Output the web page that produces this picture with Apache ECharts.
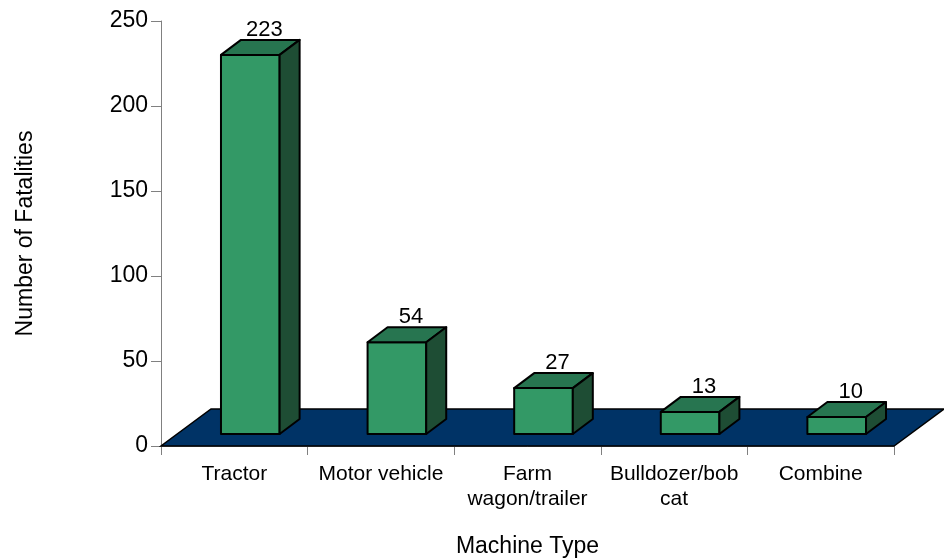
<!DOCTYPE html>
<html>
<head>
<meta charset="utf-8">
<script src="https://cdn.jsdelivr.net/npm/echarts@6/dist/echarts.min.js"></script>
<style>
  html, body { margin: 0; padding: 0; background: #ffffff; }
  #chart { width: 944px; height: 558px; }
</style>
</head>
<body>
<div id="chart"></div>
<script>
// chart data
var categories = ['Tractor', 'Motor vehicle', 'Farm\nwagon/trailer', 'Bulldozer/bob\ncat', 'Combine'];
var fatalities = [223, 54, 27, 13, 10];
var yMax = 250;
var yStep = 50;

// 3d look
var FLOOR_DX = 50, FLOOR_DY = 37;   // floor depth
var FRONT_DX = 16, FRONT_DY = 12;   // bar front face sits inside the floor
var BAR_DX = 20, BAR_DY = 15;       // bar depth
var FONT = '"Liberation Sans", Arial, sans-serif';

var chart = echarts.init(document.getElementById('chart'), null, { renderer: 'canvas' });

function renderFloor(params, api) {
    var band = api.size([1, 0])[0];
    var first = api.coord([0, 0]);
    var last = api.coord([categories.length - 1, 0]);
    var xl = first[0] - band / 2, xr = last[0] + band / 2, y = first[1];
    return {
        type: 'polygon',
        shape: { points: [[xl, y], [xr, y], [xr + FLOOR_DX, y - FLOOR_DY], [xl + FLOOR_DX, y - FLOOR_DY]] },
        style: { fill: '#003366', stroke: '#000000', lineWidth: 1.5 }
    };
}

function renderBar(params, api) {
    var i = api.value(0), v = api.value(1);
    var base = api.coord([i, 0]);
    var top = api.coord([i, v]);
    var band = api.size([1, 0])[0];
    var w = band * 0.4;
    var cx = base[0] + FRONT_DX;
    var x0 = cx - w / 2, x1 = cx + w / 2;
    var yb = base[1] - FRONT_DY, yt = top[1] - FRONT_DY;
    var line = { stroke: '#000000', lineWidth: 2, lineJoin: 'round' };
    return {
        type: 'group',
        children: [
            { type: 'polygon', shape: { points: [[x0, yb], [x1, yb], [x1, yt], [x0, yt]] },
              style: Object.assign({ fill: '#339966' }, line) },
            { type: 'polygon', shape: { points: [[x0, yt], [x1, yt], [x1 + BAR_DX, yt - BAR_DY], [x0 + BAR_DX, yt - BAR_DY]] },
              style: Object.assign({ fill: '#277550' }, line) },
            { type: 'polygon', shape: { points: [[x1, yb], [x1, yt], [x1 + BAR_DX, yt - BAR_DY], [x1 + BAR_DX, yb - BAR_DY]] },
              style: Object.assign({ fill: '#1e4d34' }, line) },
            { type: 'text',
              style: { text: String(v), x: cx + 14, y: yt - BAR_DY + 1, align: 'center', verticalAlign: 'bottom',
                       fontSize: 22, fontFamily: FONT, fill: '#000000' } }
        ]
    };
}

var option = {
    backgroundColor: '#ffffff',
    animation: false,
    textStyle: { fontFamily: FONT },
    grid: { left: 161, right: 50, top: 21, bottom: 112, containLabel: false, outerBoundsMode: 'none' },
    xAxis: {
        type: 'category',
        data: categories,
        name: 'Machine Type',
        nameLocation: 'middle',
        nameGap: 89,
        nameTextStyle: { fontSize: 23, color: '#000000', fontFamily: FONT },
        axisLine: { show: true, lineStyle: { color: '#808080', width: 1 } },
        axisTick: { show: true, length: 9, lineStyle: { color: '#808080', width: 1 } },
        axisLabel: { interval: 0, fontSize: 21, lineHeight: 25, margin: 16, color: '#000000', fontFamily: FONT },
        splitLine: { show: false }
    },
    yAxis: {
        type: 'value',
        min: 0,
        max: yMax,
        interval: yStep,
        name: 'Number of Fatalities',
        nameLocation: 'middle',
        nameGap: 124,
        nameTextStyle: { fontSize: 23, color: '#000000', fontFamily: FONT },
        axisLine: { show: true, lineStyle: { color: '#808080', width: 1 } },
        axisTick: { show: true, length: 10, lineStyle: { color: '#808080', width: 1 } },
        axisLabel: { fontSize: 23, margin: 13, color: '#000000', fontFamily: FONT },
        splitLine: { show: false }
    },
    series: [
        {
            type: 'custom',
            name: 'floor',
            renderItem: renderFloor,
            data: [[0, 0]],
            encode: { x: 0, y: 1 },
            silent: true,
            z: 1
        },
        {
            type: 'custom',
            name: 'Fatalities',
            renderItem: renderBar,
            data: fatalities.map(function (v, i) { return [i, v]; }),
            encode: { x: 0, y: 1 },
            z: 3
        }
    ]
};

chart.setOption(option);
</script>
</body>
</html>
